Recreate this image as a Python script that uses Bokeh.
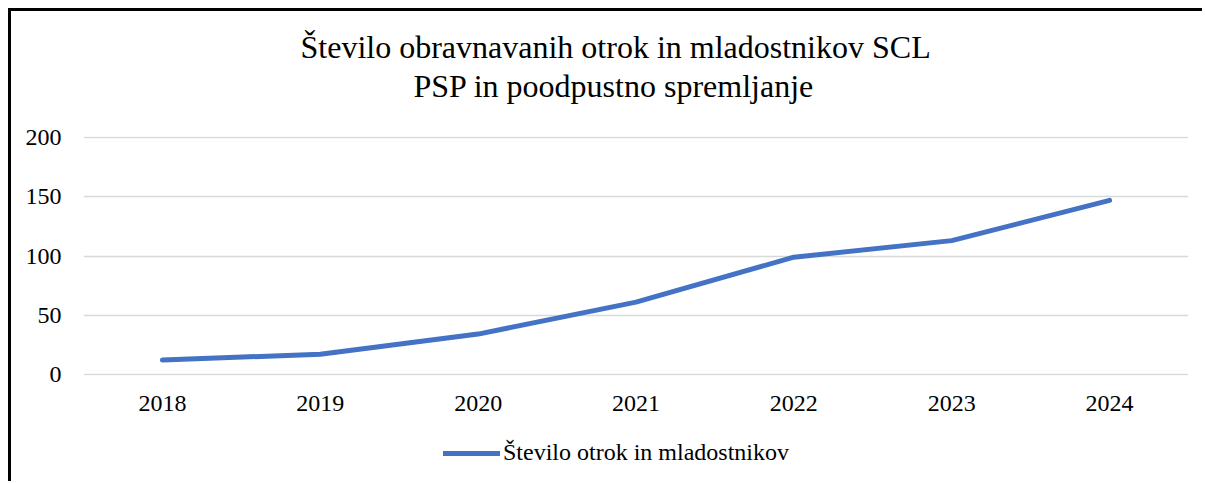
from bokeh.plotting import figure
from bokeh.models import Title, Legend, LegendItem, FactorRange, Range1d, FixedTicker, Column
from bokeh.embed import file_html
from bokeh.resources import INLINE

years = ["2018", "2019", "2020", "2021", "2022", "2023", "2024"]
counts = [12, 17, 34, 61, 99, 113, 147]
yticks = [0, 50, 100, 150, 200]
title_line1 = "Število obravnavanih otrok in mladostnikov SCL"
title_line2 = "PSP in poodpustno spremljanje"
series_name = "Število otrok in mladostnikov"

FONT = "Liberation Serif"
BLUE = "#4472C4"
W = 1191

p = figure(
    x_range=FactorRange(*years, range_padding=0),
    y_range=Range1d(-1, 201),
    width=W, height=414,
    output_backend="svg", toolbar_location=None,
    min_border_left=72, min_border_right=14,
    min_border_top=125, min_border_bottom=50,
)
p.outline_line_color = None
p.background_fill_color = "white"
p.border_fill_color = "white"

spacer = Title(text=" ", text_font=FONT, text_font_size="1px", standoff=30)
t2 = Title(text=title_line2, align="left", offset=330, text_font=FONT, text_font_size="32px",
           text_font_style="normal", text_color="black", standoff=0)
t1 = Title(text=title_line1, align="left", offset=217, text_font=FONT, text_font_size="32px",
           text_font_style="normal", text_color="black", standoff=2)
p.add_layout(spacer, "above")
p.add_layout(t2, "above")
p.add_layout(t1, "above")

p.line(years, counts, line_color=BLUE, line_width=5, line_cap="round", line_join="round")

p.xgrid.grid_line_color = None
p.ygrid.grid_line_color = "#d9d9d9"
p.ygrid.grid_line_width = 1.5
p.yaxis.ticker = FixedTicker(ticks=yticks)

for ax in (p.xaxis[0], p.yaxis[0]):
    ax.axis_line_color = None
    ax.major_tick_line_color = None
    ax.minor_tick_line_color = None
    ax.major_label_text_font = FONT
    ax.major_label_text_font_size = "24px"
    ax.major_label_text_color = "black"
p.yaxis.major_label_standoff = 16
p.xaxis.major_label_standoff = 14

# legend strip below the chart
p2 = figure(
    x_range=FactorRange(*years, range_padding=0),
    y_range=Range1d(1000, 1001),
    width=W, height=56,
    output_backend="svg", toolbar_location=None,
    x_axis_type=None, y_axis_type=None,
    min_border_left=0, min_border_right=0, min_border_top=0, min_border_bottom=0,
)
p2.outline_line_color = None
p2.border_fill_color = "white"
p2.grid.visible = False
r2 = p2.line(years, counts, line_color=BLUE, line_width=5, line_cap="round")
legend = Legend(items=[LegendItem(label=series_name, renderers=[r2])],
                location=(360, 15), orientation="horizontal",
                label_text_font=FONT, label_text_font_size="24px", label_text_color="black",
                glyph_width=57, label_standoff=3, border_line_color=None,
                background_fill_alpha=0, padding=10, margin=0)
p2.add_layout(legend, "center")

layout = Column(children=[p, p2], spacing=0,
                styles={"margin-left": "8px", "margin-top": "8px",
                        "border-left": "3px solid black", "border-top": "3px solid black",
                        "background-color": "white"})

open("out.html", "w").write(file_html(layout, INLINE))
